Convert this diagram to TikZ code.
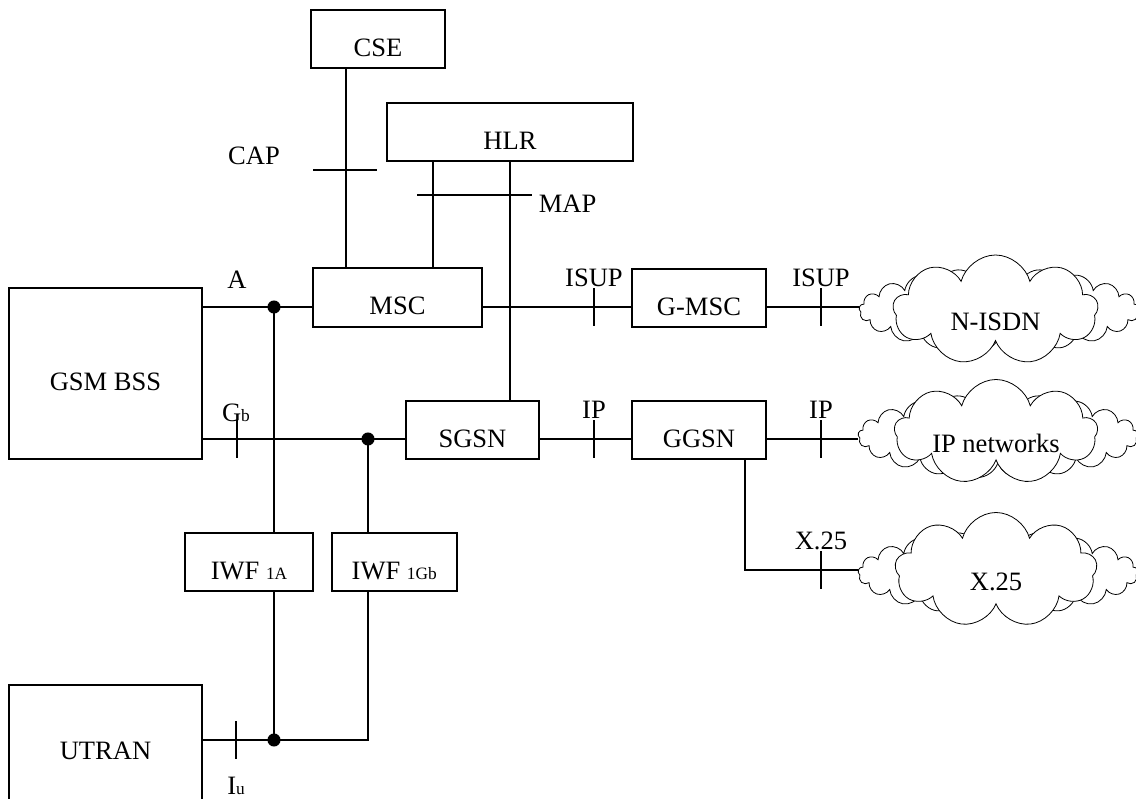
\documentclass[tikz,border=0pt]{standalone}
\usepackage{fontspec}
\setmainfont{Liberation Serif}
\usetikzlibrary{positioning, shapes.symbols, calc}
\newcommand\upx{0.75pt}
\newcommand\subsz{\fontsize{13}{15}\selectfont}

\begin{document}
\begin{tikzpicture}[
  x=0.75pt, y=-0.75pt, line width=1.3pt,
  font=\fontsize{19.9}{24}\selectfont,
  box/.style     = {draw, rectangle, inner sep=0pt, text height=26pt, text depth=0pt},
  net/.style     = {cloud, draw, line width=0.6pt, fill=white, cloud puffs=9, cloud ignores aspect,
                    inner sep=0pt, text height=30pt, text depth=0pt},
  netback/.style = {cloud, draw, line width=0.6pt, fill=white, cloud puffs=21, cloud ignores aspect,
                    inner sep=0pt},
  lbl/.style     = {inner sep=0pt},
]
  \useasboundingbox (0,0) rectangle (1136,799);

  % core network
  \node[box, minimum width=134*\upx, minimum height=58*\upx] (cse)   at (378,39)      {CSE};
  \node[box, minimum width=246*\upx, minimum height=58*\upx] (hlr)   at (510,132)     {HLR};
  \node[box, minimum width=169*\upx, minimum height=59*\upx] (msc)   at (397.5,297.5) {MSC};
  \node[box, minimum width=133*\upx, minimum height=58*\upx] (sgsn)  at (472.5,430)   {SGSN};
  \node[box, minimum width=134*\upx, minimum height=58*\upx] (gmsc)  at (699,298)     {G-MSC};
  % ggsn sits below gmsc, level with sgsn
  \node[box, minimum width=134*\upx, minimum height=58*\upx] (ggsn)  at (gmsc |- sgsn) {GGSN};

  % access side
  \node[box, minimum width=193*\upx, minimum height=171*\upx] (gsm)  at (105.5,373.5) {GSM BSS};
  \node[box, minimum width=193*\upx, minimum height=115*\upx, below=168pt of gsm] (utran) {UTRAN};
  \node[box, minimum width=128*\upx, minimum height=58*\upx] (iwfa)  at (249,562)     {IWF {\subsz 1A}};
  \node[box, minimum width=125*\upx, minimum height=58*\upx, right=12.75pt of iwfa] (iwfb) {IWF {\subsz 1Gb}};

  % external networks
  \node[netback, minimum width=280*\upx, minimum height=84*\upx]  (isdnb) at (999,310)   {};
  \node[net,     minimum width=205*\upx, minimum height=110*\upx] (isdn)  at (995.5,310) {N-ISDN};
  \node[netback, minimum width=280*\upx, minimum height=84*\upx]  (ipnb)  at (998,436)   {};
  \node[net,     minimum width=203*\upx, minimum height=105*\upx] (ipn)   at (996,432)   {IP networks};
  \node[netback, minimum width=280*\upx, minimum height=84*\upx]  (x25b)  at (998,573)   {};
  \node[net,     minimum width=202*\upx, minimum height=115*\upx] (x25)   at (996,570)   {X.25};

  % junctions
  \coordinate (ja)  at (274,307);
  \coordinate (jg)  at (368,439);
  \coordinate (ju)  at (274,740);
  \coordinate (jc)  at (346,170);
  \coordinate (jm1) at (433,195);
  \coordinate (jm2) at (510,195);
  \coordinate (jx)  at (745,570);

  % A and Gb buses
  \draw (gsm.east |- ja) -- (ja) -- (ja -| msc.west);
  \fill (ja) circle (4.9pt);
  \draw (ja) -- (ja |- iwfa.north);
  \draw (gsm.east |- jg) -- (jg) -- (jg -| sgsn.west);
  \fill (jg) circle (4.9pt);
  \draw (jg) -- (jg |- iwfb.north);

  % Iu side
  \draw (iwfa.south -| ja) -- (ju);
  \draw (iwfb.south -| jg) |- (ju);
  \draw (utran.east |- ju) -- (ju);
  \fill (ju) circle (4.9pt);

  % CAP and MAP
  \draw (cse.south -| jc) -- (msc.north -| jc);
  \draw (hlr.south -| jm1) -- (msc.north -| jm1);
  \draw (hlr.south -| jm2) -- (sgsn.north -| jm2);

  % circuit and packet rows
  \draw (ja -| msc.east)  -- (ja -| gmsc.west);
  \draw (ja -| gmsc.east) -- (ja -| isdnb.west);
  \draw (jg -| sgsn.east) -- (jg -| ggsn.west);
  \draw (jg -| ggsn.east) -- (jg -| ipnb.west);
  \draw (ggsn.south -| jx) -- (jx) -- (jx -| x25b.west);

  % interface marks
  \draw ($(jc)+(-33,0)$) -- ($(jc)+(31,0)$);
  \draw ($(jm1)+(-16,0)$) -- ($(jm2)+(22,0)$);
  \foreach \tx/\ty in {237/439, 236/740, 594/307, 821/307, 594/439, 821/439, 821/570}
    \draw (\tx,\ty) ++(0,-19) -- ++(0,38);

  % interface labels
  \node[lbl] (lcap)   at (254,156)              {CAP};
  \node[lbl, anchor=west] (lmap) at (538,204)   {MAP};
  \node[lbl] (la)     at (237,280)              {A};
  \node[lbl] (lgb)    at (236,413)              {G{\subsz b}};
  \node[lbl] (liu)    at (236,786)              {I{\subsz u}};
  \node[lbl] (lisup1) at (594,278)              {ISUP};
  \node[lbl] (lisup2) at (821,278)              {ISUP};
  \node[lbl] (lip1)   at (594,410)              {IP};
  \node[lbl] (lip2)   at (821,410)              {IP};
  \node[lbl] (lx25)   at (821,541)              {X.25};
\end{tikzpicture}
\end{document}
